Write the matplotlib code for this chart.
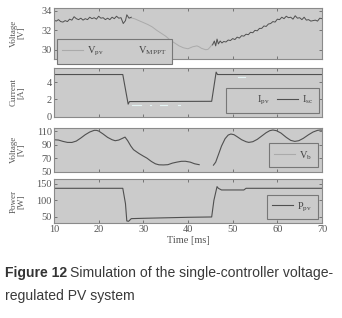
import numpy as np
import matplotlib.pyplot as plt
from matplotlib.lines import Line2D

plt.rcParams['font.family'] = ['Liberation Serif', 'DejaVu Serif']
plt.rcParams['mathtext.fontset'] = 'custom'
plt.rcParams['mathtext.rm'] = 'Liberation Serif'
plt.rcParams['mathtext.it'] = 'Liberation Serif:italic'

# ---- panel 1: PV voltage ----
t_pv = [27.0, 28, 29, 30, 31, 32, 33, 34, 35, 36, 37, 38, 39, 40, 41, 42, 42.5, 43, 44, 44.5, 45, 45.5]
v_pv = [33.3, 33.2, 33.0, 32.8, 32.6, 32.35, 32.0, 31.7, 31.4, 31.0, 30.7, 30.4, 30.2, 30.1, 30.3,
        30.4, 30.3, 30.15, 30.0, 30.05, 30.3, 30.6]
t_mppt = [10.0, 10.5, 11.0, 11.5, 12.0, 12.5, 13.0, 13.5, 14.0, 14.5, 15.0, 15.5, 16.0, 16.5, 17.0,
          17.5, 18.0, 18.5, 19.0, 19.5, 20.0, 20.5, 21.0, 21.5, 22.0, 22.5, 23.0, 23.5, 24.0, 24.5,
          25.0, 25.5, 26.0, 26.3, 26.8, 27.3, 36.0,
          45.5, 45.9, 46.2, 46.5, 46.8, 47.2, 47.6, 48.0, 48.5, 49.0, 49.5, 50.0, 50.5, 51.0, 51.5,
          52.0, 52.5, 53.0, 53.5, 54.0, 54.5, 55.0, 55.5, 56.0, 56.5, 57.0, 57.5, 58.0, 58.5, 59.0,
          59.5, 60.0, 60.5, 61.0, 61.5, 62.0, 62.5, 63.0, 63.5, 64.0, 64.5, 65.0, 65.5, 66.0, 66.5,
          67.0, 67.5, 68.0, 68.5, 69.0, 69.5, 70.0]
v_mppt = [33.05, 32.95, 33.10, 32.90, 32.85, 33.00, 32.90, 33.15, 33.05, 33.40, 33.20, 33.10, 33.25,
          33.05, 33.20, 33.10, 33.35, 33.20, 33.30, 33.15, 33.45, 33.25, 33.30, 33.10, 33.25, 33.10,
          33.35, 33.20, 33.45, 33.25, 33.30, 32.70, 33.00, 33.60, 33.25, 33.35, np.nan,
          30.5, 30.9, 30.4, 31.1, 30.6, 30.9, 30.7, 30.85, 30.8, 31.0, 30.95, 31.15, 31.05, 31.3,
          31.2, 31.45, 31.4, 31.6, 31.55, 31.8, 31.75, 32.0, 31.95, 32.2, 32.2, 32.45, 32.4, 32.65,
          32.7, 32.9, 32.85, 33.15, 33.1, 33.35, 33.2, 33.45, 33.3, 33.35, 33.15, 33.5, 33.25, 33.3,
          33.1, 33.35, 33.05, 33.1, 32.95, 33.0, 33.05, 32.95, 33.25, 33.2]

# ---- panel 2: currents ----
t_isc = [10, 25.4, 26.6, 26.9, 45.3, 46.3, 46.6, 70]
i_sc = [4.92, 4.92, 1.45, 1.75, 1.78, 5.2, 4.92, 4.92]
t_ipv = [27.4, 29.5, 29.6, 31.6, 31.8, 31.9, 33.8, 35.4, 35.5, 37.8, 38.3, 38.4, 51.2, 52.8]
i_ipv = [1.35, 1.35, np.nan, 1.35, 1.35, np.nan, 1.35, 1.35, np.nan, 1.35, 1.35, np.nan, 4.62, 4.62]

# ---- panel 3: battery / bus voltage ----
t_b = [10, 11, 12, 13, 14, 15, 16, 17, 18, 19, 19.5, 20, 21, 22, 23, 23.7, 24.5, 25.3, 25.9, 26.5,
       27.2, 27.8, 29, 30, 30.8, 31.8, 32.7, 33.5, 34.5, 35.5, 36.5, 37.5, 38.5, 39.4, 40.5, 41.5,
       42.5, 44.0, 45.7, 46.2, 46.8, 47.5, 48.3, 49.0, 49.6, 50.3, 51, 52, 53, 53.6, 54.5, 55.5,
       56.5, 57.5, 58.3, 59, 59.8, 60.8, 62, 63, 63.9, 64.8, 65.8, 67, 68, 69, 69.6, 70]
v_b = [97.4, 97, 95, 93.5, 93.4, 95.5, 100, 105, 109, 111.5, 111.5, 110.5, 106, 101, 97.5, 96, 97,
       99.5, 101.4, 96, 88, 82.6, 77, 73, 70, 65, 61.5, 60, 59.8, 60.2, 62.5, 64, 65.2, 65.3, 64,
       61.5, 60.2, np.nan, 59.5, 64, 75, 88, 99, 104.5, 106, 105, 102, 97.5, 94.5, 93.5, 94.5, 98,
       103, 108, 111, 112, 111, 107.5, 101, 96.5, 95, 96, 99.5, 105, 109, 111.5, 112, 111.8]

# ---- panel 4: PV power ----
t_p = [10, 25.4, 26.0, 26.3, 26.7, 27.3, 30, 35, 40, 45.3, 45.8, 46.5, 46.8, 47.5, 52.5, 53.0, 70]
p_pv = [136, 136, 90, 38, 37, 45, 46, 47.5, 49, 50, 100, 141, 136, 131, 131, 136, 136]

x_ticks = [10, 20, 30, 40, 50, 60, 70]

BG = '#cbcbcb'
DARK = '#505050'
LIGHT = '#aaaaaa'
EDGE = '#8a8a8a'
TXT = '#555555'

fig = plt.figure(figsize=(3.42, 3.18), dpi=100)
H = 318.0
L, R = 54 / 342, 322 / 342


def make_ax(top, bot):
    ax = fig.add_axes([L, 1 - bot / H, R - L, (bot - top) / H])
    ax.set_facecolor(BG)
    for s in ax.spines.values():
        s.set_color(EDGE)
        s.set_linewidth(0.8)
    ax.tick_params(direction='in', top=True, right=True, length=2.5, width=0.6,
                   color='#666666', labelsize=7.5, labelcolor=TXT, pad=1.5)
    ax.set_xlim(10, 70)
    ax.set_xticks(x_ticks)
    return ax


def make_leg(ax, handles, labels, ncol, anchor, loc, **kw):
    leg = ax.legend(handles, labels, ncol=ncol, loc=loc, bbox_to_anchor=anchor,
                    fontsize=7.5, frameon=True, fancybox=False, framealpha=1,
                    facecolor=BG, edgecolor='#777777', handlelength=2.0,
                    handletextpad=0.4, borderpad=0.55, borderaxespad=0, **kw)
    leg.get_frame().set_linewidth(0.8)
    for t in leg.get_texts():
        t.set_color('#444444')
    return leg


ylab_kw = dict(fontsize=6.5, color=TXT, linespacing=1.0)

ax1 = make_ax(7.5, 58.5)
ax1.plot(t_pv, v_pv, color=LIGHT, lw=0.7)
ax1.plot(t_mppt, v_mppt, color=DARK, lw=0.7)
ax1.set_ylim(29.1, 34.35)
ax1.set_yticks([30, 32, 34])
ax1.set_xticklabels([])
ax1.set_ylabel('Voltage\n[V]', **ylab_kw)
make_leg(ax1, [Line2D([], [], color=LIGHT, lw=0.8), Line2D([], [], color=BG, lw=0.8)],
         ['V$_{\\mathrm{pv}}$', 'V$_{\\mathrm{MPPT}}$'], 2, (0.01, -0.11), 'lower left',
         columnspacing=0.8)

ax2 = make_ax(68.3, 116.5)
ax2.plot(t_ipv, i_ipv, color='#e4f3f3', lw=0.8)
ax2.plot(t_isc, i_sc, color=DARK, lw=0.8)
ax2.set_ylim(0, 5.65)
ax2.set_yticks([0, 2, 4])
ax2.set_xticklabels([])
ax2.set_ylabel('Current\n[A]', **ylab_kw)
make_leg(ax2, [Line2D([], [], color=BG, lw=0.8), Line2D([], [], color=DARK, lw=0.8)],
         ['I$_{\\mathrm{pv}}$', 'I$_{\\mathrm{sc}}$'], 2, (0.989, 0.079), 'lower right',
         columnspacing=0.7)

ax3 = make_ax(128, 171.5)
ax3.plot(t_b, v_b, color=DARK, lw=0.8)
ax3.set_ylim(50, 115)
ax3.set_yticks([50, 70, 90, 110])
ax3.set_xticklabels([])
ax3.set_ylabel('Voltage\n[V]', **ylab_kw)
make_leg(ax3, [Line2D([], [], color=LIGHT, lw=0.8)], ['V$_{\\mathrm{b}}$'], 1,
         (0.985, 0.097), 'lower right')

ax4 = make_ax(179.3, 223.3)
ax4.plot(t_p, p_pv, color=DARK, lw=0.8)
ax4.set_ylim(31, 163)
ax4.set_yticks([50, 100, 150])
ax4.set_xticklabels([str(v) for v in x_ticks])
ax4.set_xlabel('Time [ms]', fontsize=7.5, color=TXT, labelpad=1)
ax4.set_ylabel('Power\n[W]', **ylab_kw)
make_leg(ax4, [Line2D([], [], color=DARK, lw=0.8)], ['P$_{\\mathrm{pv}}$'], 1,
         (0.986, 0.091), 'lower right')

for ax in (ax1, ax2, ax3, ax4):
    ax.yaxis.set_label_coords(-0.105, 0.5)

# caption, fitted to the width the reference uses (x = 5 .. 333 px)
cap_font = ['Liberation Sans', 'DejaVu Sans']
x0, x_end = 5.0, 333.0
y1 = 1 - 273 / H
y2 = 1 - 296 / H
W = fig.bbox.width
size = 10.5
t1 = fig.text(x0 / W, y1, 'Figure 12', family=cap_font, weight='bold', size=size,
              color='#333333', va='center')
t2 = fig.text(0, y1, 'Simulation of the single-controller voltage-', family=cap_font,
              size=size, color='#3a3a3a', va='center')
t3 = fig.text(x0 / W, y2, 'regulated PV system', family=cap_font, size=size,
              color='#3a3a3a', va='center')
r = fig.canvas.get_renderer()
for _ in range(3):
    w1 = t1.get_window_extent(r).width
    w2 = t2.get_window_extent(r).width
    gap = 0.28 * size
    size = size * (x_end - x0) / (w1 + gap + w2)
    for t in (t1, t2, t3):
        t.set_fontsize(size)
w1 = t1.get_window_extent(r).width
t2.set_x((x0 + w1 + 0.28 * size) / W)

fig.savefig('out.png', dpi=100)
